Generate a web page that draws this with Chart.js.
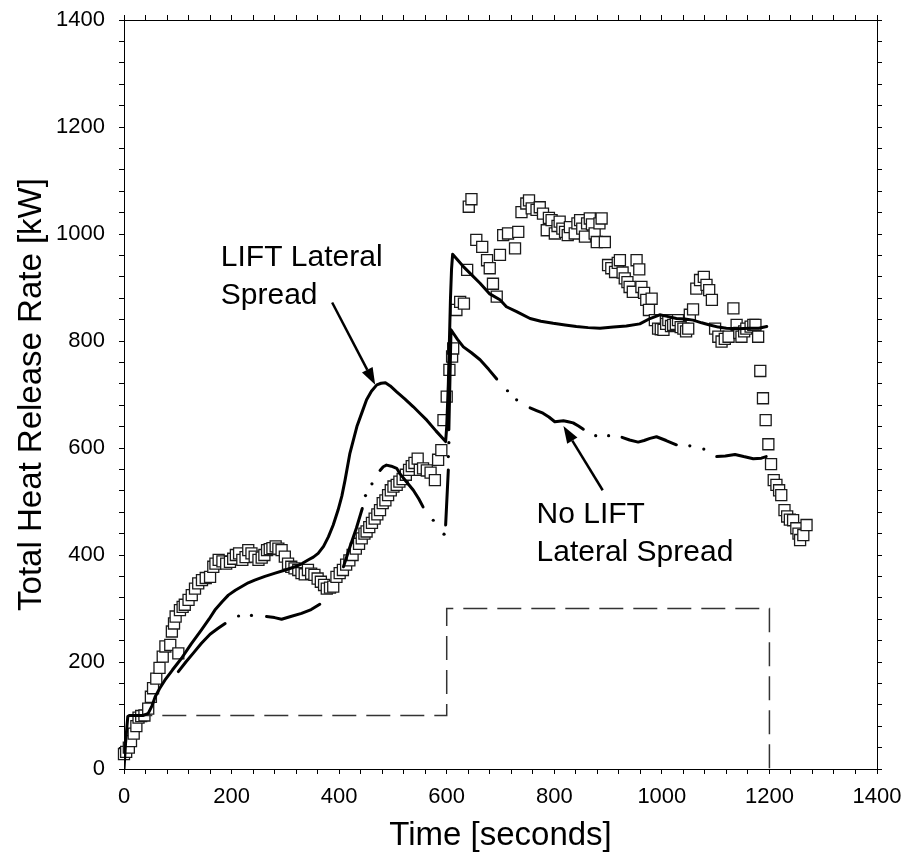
<!DOCTYPE html>
<html lang="en">
<head>
<meta charset="UTF-8">
<title>Total Heat Release Rate</title>
<style>
    html, body { margin: 0; padding: 0; background: #fff; overflow: hidden; }
    #wrap { width: 901px; height: 862px; position: relative; }
</style>
</head>
<body>
<div id="wrap"><canvas id="hrr"></canvas></div>
<script src="https://cdn.jsdelivr.net/npm/chart.js@4.4.1/dist/chart.umd.min.js"></script>
<script>
// Experimental data (open squares)
const expTime = [
    0, 4, 9, 13, 18, 23, 27, 32, 38, 45,
    50, 54, 60, 66, 72, 77, 86, 89, 93, 96,
    101, 104, 109, 113, 120, 126, 132, 138, 145, 152,
    160, 166, 170, 176, 183, 190, 197, 203, 208, 214,
    220, 226, 231, 237, 243, 250, 256, 261, 266, 271,
    276, 282, 287, 293, 299, 305, 311, 317, 324, 330,
    336, 342, 348, 354, 360, 366, 372, 377, 383, 389,
    395, 401, 407, 413, 419, 425, 431, 437, 442, 447,
    451, 456, 461, 466, 471, 476, 481, 486, 491, 496,
    501, 507, 512, 518, 524, 530, 535, 540, 546, 550,
    556, 563, 570, 578, 584, 590, 594, 600, 605, 610,
    612, 618, 625, 632, 638, 641, 646, 655, 666, 675,
    680, 686, 693, 699, 705, 714, 727, 733, 739, 748,
    753, 758, 767, 773, 779, 786, 790, 795, 801, 806,
    810, 815, 820, 825, 829, 838, 843, 848, 852, 857,
    861, 866, 870, 875, 879, 884, 888, 894, 900, 906,
    913, 918, 922, 927, 931, 936, 940, 946, 953, 958,
    962, 967, 971, 976, 981, 987, 993, 998, 1003, 1008,
    1012, 1017, 1021, 1026, 1030, 1035, 1040, 1045, 1049, 1052,
    1058, 1064, 1071, 1078, 1083, 1088, 1093, 1099, 1105, 1111,
    1117, 1124, 1133, 1139, 1144, 1148, 1153, 1157, 1165, 1170,
    1174, 1179, 1183, 1188, 1193, 1198, 1203, 1208, 1213, 1218,
    1222, 1228, 1233, 1238, 1244, 1250, 1254, 1257, 1263, 1269
];
const expHrr = [
    28, 32, 40, 52, 66, 80, 96, 99, 100, 113,
    135, 151, 169, 189, 210, 229, 232, 257, 272, 285,
    216, 297, 303, 307, 316, 325, 337, 347, 353, 357,
    359, 378, 384, 391, 388, 384, 387, 393, 400, 403,
    391, 396, 409, 403, 397, 391, 395, 400, 409, 411,
    413, 416, 412, 409, 397, 384, 378, 375, 372, 366,
    364, 372, 365, 363, 356, 350, 344, 337, 339, 341,
    359, 366, 372, 382, 390, 400, 412, 421, 431, 440,
    444, 452, 460, 468, 476, 484, 497, 502, 512, 521,
    528, 531, 537, 542, 550, 559, 566, 572, 580, 559,
    562, 558, 554, 540, 578, 596, 652, 696, 746, 771,
    786, 858, 873, 870, 933, 1051, 1065, 989, 976, 951,
    936, 907, 883, 961, 998, 1001, 973, 1004, 1041, 1057,
    1063, 1048, 1045, 1050, 1038, 1007, 1030, 1026, 1001, 1015,
    1023, 1010, 1004, 998, 1013, 1001, 1020, 1026, 1010, 995,
    1020, 1029, 1018, 1001, 985, 1020, 1029, 985, 942, 936,
    929, 946, 951, 928, 917, 910, 901, 892, 951, 934,
    901, 890, 877, 858, 879, 839, 823, 822, 821, 832,
    839, 828, 830, 832, 839, 826, 823, 818, 823, 849,
    859, 898, 914, 920, 905, 895, 877, 823, 808, 799,
    804, 808, 861, 830, 815, 808, 818, 823, 827, 830,
    830, 808, 744, 693, 652, 607, 570, 540, 531, 521,
    512, 484, 472, 466, 465, 450, 440, 428, 437, 456
];

// Model with LIFT lateral spread (solid)
const liftTime = [0, 3, 7, 10, 36, 45, 52, 58, 66, 76, 90, 107, 125, 144, 158, 169, 182, 194, 207, 219,
    231, 243, 262, 281, 300, 318, 331, 343, 352, 361, 371, 380, 389, 398, 405, 411, 420, 433, 443, 451,
    460, 470, 478, 486, 495, 507, 522, 538, 550, 563, 580, 598, 600, 603, 605, 607, 609, 611, 620, 631,
    645, 662, 680, 699, 711, 730, 755, 775, 798, 820, 841, 863, 885, 910, 934, 959, 978, 996, 1010, 1027,
    1043, 1058, 1074, 1089, 1105, 1120, 1140, 1164, 1180, 1195];
const liftHrr = [0, 50, 98, 100, 100, 104, 118, 135, 150, 166, 185, 207, 234, 260, 280, 297, 312, 325, 334, 341,
    348, 353, 360, 366, 372, 378, 384, 391, 396, 403, 416, 434, 456, 484, 510, 540, 590, 640, 668, 690,
    706, 718, 721, 722, 716, 705, 692, 677, 665, 652, 632, 612, 640, 720, 800, 880, 935, 962, 952, 939,
    925, 908, 888, 877, 864, 855, 842, 837, 833, 830, 827, 825, 824, 826, 828, 832, 842, 849, 846, 842,
    841, 839, 834, 830, 826, 824, 823, 824, 824, 827];

// Model without LIFT lateral spread (dash-dot): null marks a break in the line
const noLiftTime = [101, 115, 130, 144, 160, 175, 188, 200,
    265, 280, 293, 310, 330, 348, 364, 380,
    408, 420, 432, 443, 460,
    476, 482, 488, 497, 507, 513, 525, 538, 548, 556, 575,
    598, 603, 603.5,
    604, 608, 612, 620, 631, 646, 662, 678, 693, 720,
    755, 767, 779, 790, 801, 809, 817, 826, 835, 845, 854, 890,
    926, 940, 956, 967, 978, 990, 1008, 1027, 1065,
    1102, 1118, 1136, 1152, 1170, 1185, 1194];
const noLiftHrr = [182, 200, 218, 235, 252, 263, 272, null,
    285, 283, 280, 285, 291, 298, 308, null,
    378, 415, 450, 487, null,
    558, 565, 568, 566, 562, 552, 537, 521, 505, 490, null,
    456, 559, null,
    634, 821, 815, 803, 789, 778, 765, 747, 729, null,
    675, 670, 665, 658, 649, 650, 651, 649, 647, 641, 635, null,
    620, 615, 611, 614, 618, 621, 614, 606, null,
    584, 585, 588, 584, 580, 581, 584];
const noLiftDotTime = [213, 237, 449, 461, 575, 595, 603, 604, 713, 730, 877, 901, 1052, 1078];
const noLiftDotHrr = [286, 287, 511, 533, 465, 439, 584, 610, 707, 690, 623, 623, 604, 598];

// Burner output (dashed)
const burnerTime = [8, 600, 600, 1200, 1200];
const burnerHrr = [100, 100, 300, 300, 0];

const toPoints = (xs, ys) => xs.map((x, i) => ({ x: x, y: ys[i] }));

const FONT = "'Liberation Sans', Arial, sans-serif";

// text labels and arrows, given in data units
const notes = [
    { lines: ["LIFT Lateral", "Spread"], t: 180, q: [940, 870], from: [387, 872], to: [467, 718] },
    { lines: ["No LIFT", "Lateral Spread"], t: 767, q: [460, 389], from: [890, 521], to: [817, 641] },
];

const notesPlugin = {
    id: "notes",
    afterDatasetsDraw(chart) {
        const { ctx, scales: { x, y } } = chart;
        ctx.save();
        ctx.fillStyle = "#000";
        ctx.strokeStyle = "#000";
        ctx.font = "30px " + FONT;
        ctx.textBaseline = "alphabetic";
        ctx.textAlign = "left";
        for (const n of notes) {
            n.lines.forEach((line, i) => {
                ctx.fillText(line, x.getPixelForValue(n.t), y.getPixelForValue(n.q[i]));
            });
            const x0 = x.getPixelForValue(n.from[0]), y0 = y.getPixelForValue(n.from[1]);
            const x1 = x.getPixelForValue(n.to[0]), y1 = y.getPixelForValue(n.to[1]);
            const ang = Math.atan2(y1 - y0, x1 - x0);
            const headLen = 17, headW = 6;
            ctx.lineWidth = 2.5;
            ctx.beginPath();
            ctx.moveTo(x0, y0);
            ctx.lineTo(x1 - headLen * Math.cos(ang), y1 - headLen * Math.sin(ang));
            ctx.stroke();
            ctx.beginPath();
            ctx.moveTo(x1, y1);
            ctx.lineTo(x1 - headLen * Math.cos(ang) + headW * Math.sin(ang), y1 - headLen * Math.sin(ang) - headW * Math.cos(ang));
            ctx.lineTo(x1 - headLen * Math.cos(ang) - headW * Math.sin(ang), y1 - headLen * Math.sin(ang) + headW * Math.cos(ang));
            ctx.closePath();
            ctx.fill();
        }
        ctx.restore();
    },
};

const tickLabel = v => (v % 200 === 0 ? v : "");
const noPad = s => { s.paddingLeft = 0; s.paddingRight = 0; s.paddingTop = 0; s.paddingBottom = 0; };
const axisBase = {
    type: "linear",
    min: 0,
    max: 1400,
    grid: { drawOnChartArea: false, tickLength: 5, color: "#000", tickWidth: 1 },
    border: { display: true, color: "#000", width: 1 },
};

new Chart("hrr", {
    type: "scatter",
    data: {
        datasets: [
            {
                type: "line",
                data: toPoints(liftTime, liftHrr),
                borderColor: "#000",
                borderWidth: 3,
                pointRadius: 0,
                tension: 0,
                borderJoinStyle: "round",
                borderCapStyle: "round",
                order: 1,
            },
            {
                type: "line",
                data: toPoints(noLiftTime, noLiftHrr),
                borderColor: "#000",
                borderWidth: 3,
                pointRadius: 0,
                tension: 0,
                spanGaps: false,
                borderJoinStyle: "round",
                borderCapStyle: "round",
                order: 1,
            },
            {
                data: toPoints(noLiftDotTime, noLiftDotHrr),
                pointStyle: "circle",
                pointRadius: 1.6,
                backgroundColor: "#000",
                borderWidth: 0,
                order: 1,
            },
            {
                type: "line",
                data: toPoints(burnerTime, burnerHrr),
                borderColor: "#333",
                borderWidth: 1.5,
                borderDash: [24, 10],
                pointRadius: 0,
                tension: 0,
                order: 1,
            },
            {
                data: toPoints(expTime, expHrr),
                pointStyle: "rect",
                pointRadius: 7.8,
                backgroundColor: "#fff",
                borderColor: "#1a1a1a",
                borderWidth: 1.3,
                clip: false,
                order: 2,
            },
        ],
    },
    options: {
        responsive: true,
        maintainAspectRatio: false,
        animation: false,
        layout: { padding: 0 },
        plugins: { legend: { display: false }, tooltip: { enabled: false } },
        scales: {
            x: {
                ...axisBase,
                position: "bottom",
                ticks: { stepSize: 40, autoSkip: false, maxRotation: 0, callback: tickLabel,
                    color: "#000", font: { family: FONT, size: 22 }, padding: 10 },
                title: { display: true, text: "Time [seconds]", color: "#000",
                    font: { family: FONT, size: 33 }, padding: { top: 0, bottom: 6 } },
                afterFit: s => { s.height = 93; noPad(s); },
            },
            x2: {
                ...axisBase,
                position: "top",
                ticks: { stepSize: 40, display: false },
                afterFit: s => { s.height = 20; noPad(s); },
            },
            y: {
                ...axisBase,
                position: "left",
                ticks: { stepSize: 40, autoSkip: false, callback: tickLabel,
                    color: "#000", font: { family: FONT, size: 22 }, padding: 14 },
                title: { display: true, text: "Total Heat Release Rate [kW]", color: "#000",
                    font: { family: FONT, size: 33 }, padding: { top: 12, bottom: 0 } },
                afterFit: s => { s.width = 124; noPad(s); },
            },
            y2: {
                ...axisBase,
                position: "right",
                ticks: { stepSize: 40, display: false },
                afterFit: s => { s.width = 24; noPad(s); },
            },
        },
    },
    plugins: [notesPlugin],
});
</script>
</body>
</html>
